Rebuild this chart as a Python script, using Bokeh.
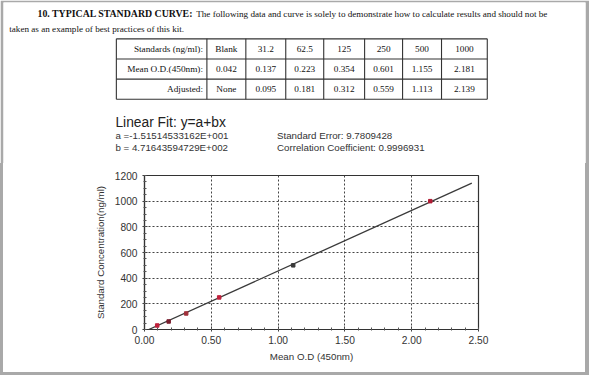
from bokeh.plotting import figure
from bokeh.layouts import column, row
from bokeh.models import Range1d, FixedTicker, NumeralTickFormatter, Spacer
from bokeh.core.properties import value
from bokeh.embed import file_html
from bokeh.resources import INLINE

# ---------------- data ----------------
heading_bold = "10. TYPICAL STANDARD CURVE:"
heading_rest = "The following data and curve is solely to demonstrate how to calculate results and should not be"
heading_line2 = "taken as an example of best practices of this kit."

row_labels = ["Standards (ng/ml):", "Mean O.D.(450nm):", "Adjusted:"]
standards = ["Blank", "31.2", "62.5", "125", "250", "500", "1000"]
mean_od = ["0.042", "0.137", "0.223", "0.354", "0.601", "1.155", "2.181"]
adjusted = ["None", "0.095", "0.181", "0.312", "0.559", "1.113", "2.139"]

fit_title = "Linear Fit: y=a+bx"
fit_a = "a =-1.51514533162E+001"
fit_b = "b = 4.71643594729E+002"
std_err = "Standard Error: 9.7809428"
corr = "Correlation Coefficient: 0.9996931"

adj_od = [0.095, 0.181, 0.312, 0.559, 1.113, 2.139]
conc = [31.2, 62.5, 125, 250, 500, 1000]
point_colors = ["#c0203c", "#7a2030", "#a0303a", "#c0203c", "#3a3a3a", "#b01c34"]
fit_x = [0.032, 2.45]
fit_y = [0, 1140]

x_ticks = [0.0, 0.5, 1.0, 1.5, 2.0, 2.5]
y_ticks = [0, 200, 400, 600, 800, 1000, 1200]
x_minor = [i * 0.1 for i in range(26)]
y_minor = [i * 50 for i in range(25)]

# ---------------- layout helpers ----------------
W, H = 589, 375
SX, SY = W / 605, H / 391          # reference -> page scale


def fs(px):
    return f"{px * SX:.2f}px"


GRAY = "#a9a9a9"
INK = "#111111"
SERIF = value("Liberation Serif")
SANS = value("Liberation Sans")

TOP_H = 163
B_L, B_R, B_T = 3, 4, 2

# ---------------- top: document text + table (reference pixel coords) ----------------
top = figure(width=W, height=TOP_H,
             x_range=Range1d(B_L / SX, (W - B_R) / SX),
             y_range=Range1d(TOP_H / SY, B_T / SY),
             x_axis_type=None, y_axis_type=None, output_backend="svg", toolbar_location=None,
             min_border_left=B_L, min_border_right=B_R, min_border_top=B_T, min_border_bottom=0)
top.grid.visible = False
top.outline_line_color = None
top.border_fill_color = GRAY
top.background_fill_color = "white"

top.text(x=[38], y=[14], text=[heading_bold], text_font=SERIF, text_font_style="bold",
         text_font_size=fs(10.1), text_baseline="middle", text_color=INK)
top.text(x=[201], y=[14], text=[heading_rest], text_font=SERIF,
         text_font_size=fs(9.4), text_baseline="middle", text_color=INK)
top.text(x=[9], y=[30], text=[heading_line2], text_font=SERIF,
         text_font_size=fs(9.4), text_baseline="middle", text_color=INK)

col_edges = [119, 212, 252, 293, 332, 374, 413, 453, 500]
row_edges = [40, 61, 82, 103]
top.segment(x0=[col_edges[0]] * 4, y0=row_edges, x1=[col_edges[-1]] * 4, y1=row_edges,
            line_color="#333333", line_width=1.1)
top.segment(x0=col_edges, y0=[row_edges[0]] * len(col_edges), x1=col_edges,
            y1=[row_edges[-1]] * len(col_edges), line_color="#333333", line_width=1.1)

rows_vals = [standards, mean_od, adjusted]
xs = [(col_edges[i + 1] + col_edges[i + 2]) / 2 for i in range(7)]
for r in range(3):
    yc = (row_edges[r] + row_edges[r + 1]) / 2
    top.text(x=[col_edges[1] - 4], y=[yc], text=[row_labels[r]], text_font=SERIF,
             text_font_size=fs(9.5), text_align="right", text_baseline="middle", text_color=INK)
    top.text(x=xs, y=[yc] * 7, text=rows_vals[r], text_font=SERIF,
             text_font_size=fs(9.5), text_align="center", text_baseline="middle", text_color=INK)

top.text(x=[118], y=[127], text=[fit_title], text_font=SANS, text_font_size=fs(14.2),
         text_baseline="middle", text_color="#222222")
top.text(x=[118, 118], y=[141, 153], text=[fit_a, fit_b], text_font=SANS, text_font_size=fs(10),
         text_baseline="middle", text_color="#333333")
top.text(x=[284, 284], y=[141, 153], text=[std_err, corr], text_font=SANS, text_font_size=fs(10),
         text_baseline="middle", text_color="#333333")

# ---------------- chart ----------------
ROW_H = H - TOP_H - 3
P_W = W - B_L - B_R
frame_l, frame_r = round(148 * SX), round(491 * SX)
frame_t, frame_b = round(182 * SY), round(343 * SY)

p = figure(width=P_W, height=ROW_H, x_range=Range1d(0, 2.5), y_range=Range1d(0, 1200),
           output_backend="svg", toolbar_location=None,
           min_border_left=frame_l - B_L, min_border_right=(W - B_R) - frame_r,
           min_border_top=frame_t - TOP_H, min_border_bottom=(TOP_H + ROW_H) - frame_b)
p.background_fill_color = "white"
p.border_fill_color = "white"
p.outline_line_color = "#333333"
p.outline_line_width = 1.2

p.xaxis.ticker = FixedTicker(ticks=x_ticks, minor_ticks=x_minor)
p.yaxis.ticker = FixedTicker(ticks=y_ticks, minor_ticks=y_minor)
p.xaxis.formatter = NumeralTickFormatter(format="0.00")
p.xaxis.axis_label = "Mean O.D (450nm)"
p.yaxis.axis_label = "Standard Concentration(ng/ml)"
for ax in (p.xaxis, p.yaxis):
    ax.axis_line_color = "#333333"
    ax.axis_line_width = 1.2
    ax.major_tick_line_color = "#333333"
    ax.minor_tick_line_color = "#555555"
    ax.major_tick_in = 3
    ax.major_tick_out = 2
    ax.minor_tick_in = 2
    ax.minor_tick_out = 1
    ax.major_label_text_font = "Liberation Sans"
    ax.major_label_text_font_size = fs(10.5)
    ax.major_label_text_color = "#333333"
    ax.axis_label_text_font = "Liberation Sans"
    ax.axis_label_text_font_size = fs(10)
    ax.axis_label_text_font_style = "normal"
    ax.axis_label_text_color = "#333333"
p.xaxis.major_label_standoff = 4
p.xaxis.axis_label_standoff = 4
p.yaxis.major_label_standoff = 5
p.yaxis.axis_label_standoff = 6

p.xgrid.ticker = FixedTicker(ticks=x_ticks)
p.ygrid.ticker = FixedTicker(ticks=y_ticks)
p.grid.grid_line_color = "#444444"
p.grid.grid_line_dash = "2 2"
p.grid.grid_line_width = 1

p.line(fit_x, fit_y, line_color="#3a3a3a", line_width=1.3)
p.scatter(adj_od, conc, marker="square", size=3.5, color=point_colors)

left_sp = Spacer(width=B_L, height=ROW_H, styles={"background-color": GRAY})
right_sp = Spacer(width=B_R, height=ROW_H, styles={"background-color": GRAY})
bottom_sp = Spacer(width=W, height=3, styles={"background-color": GRAY})

layout = column(top, row(left_sp, p, right_sp), bottom_sp)
open("out.html", "w").write(file_html(layout, INLINE))
